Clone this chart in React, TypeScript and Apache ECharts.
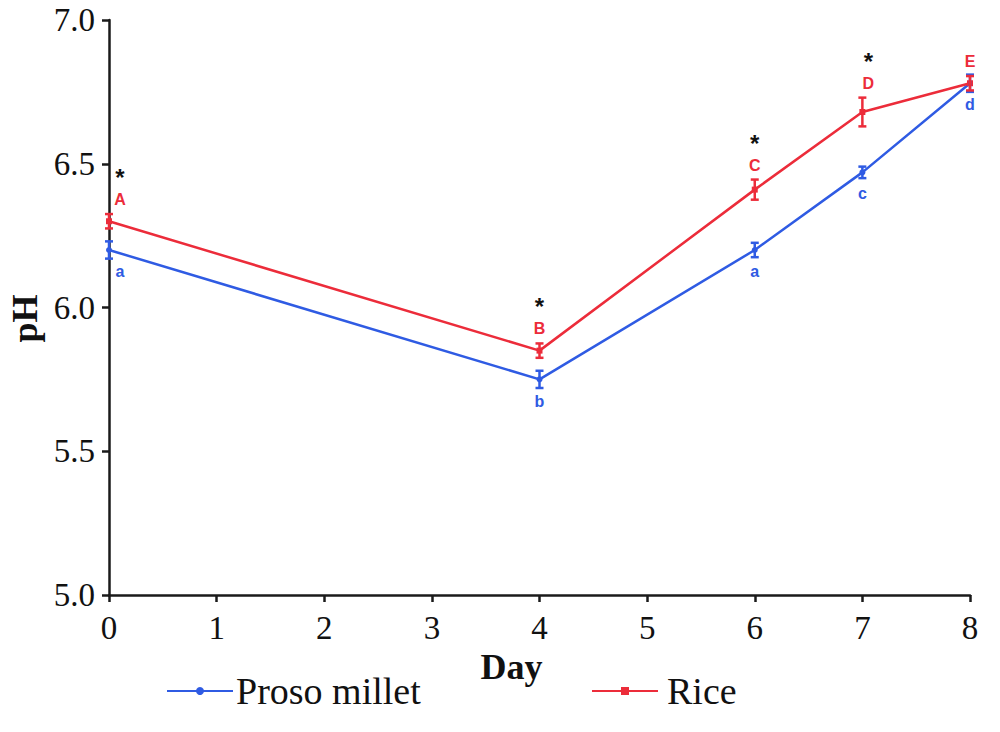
import React, { useEffect, useRef } from "react";
import * as echarts from "echarts";

const days = [0, 4, 6, 7, 8];
const prosoValues = [6.2, 5.75, 6.2, 6.47, 6.78];
const prosoErrors = [0.03, 0.03, 0.025, 0.02, 0.03];
const riceValues = [6.3, 5.85, 6.41, 6.68, 6.78];
const riceErrors = [0.025, 0.025, 0.035, 0.05, 0.025];
const prosoLetters = ["a", "b", "a", "c", "d"];
const riceLetters = ["A", "B", "C", "D", "E"];
const significant = [true, true, true, true, false];

const BLUE = "#2f5be3";
const RED = "#ec2c3a";
const SERIF = "'Liberation Serif', 'Times New Roman', serif";
const SANS = "'Liberation Sans', Arial, sans-serif";

function errorSeries(name: string, values: number[], errors: number[], letters: string[], color: string, above: boolean) {
  return {
    type: "custom",
    name: name + "-err",
    silent: true,
    z: 5,
    data: days.map((d, i) => [d, values[i], errors[i], i]),
    renderItem: (params: any, api: any) => {
      const x = api.value(0);
      const y = api.value(1);
      const e = api.value(2);
      const i = api.value(3);
      const top = api.coord([x, y + e]);
      const bot = api.coord([x, y - e]);
      const c = api.coord([x, y]);
      const cw = 4;
      const dx = x === 0 ? 11 : x === 7 && above ? 6 : 0;
      const children: any[] = [
        { type: "line", shape: { x1: top[0], y1: top[1], x2: bot[0], y2: bot[1] }, style: { stroke: color, lineWidth: 2.5 } },
        { type: "line", shape: { x1: top[0] - cw, y1: top[1], x2: top[0] + cw, y2: top[1] }, style: { stroke: color, lineWidth: 2.5 } },
        { type: "line", shape: { x1: bot[0] - cw, y1: bot[1], x2: bot[0] + cw, y2: bot[1] }, style: { stroke: color, lineWidth: 2.5 } },
      ];
      const ly = above ? Math.min(top[1], c[1] - 8) - 14 : Math.max(bot[1], c[1] + 8) + 13;
      children.push({
        type: "text",
        style: {
          text: letters[i],
          x: c[0] + dx,
          y: ly,
          fill: color,
          font: "bold 16px " + SANS,
          align: "center",
          verticalAlign: "middle",
        },
      });
      if (above && significant[i]) {
        children.push({
          type: "text",
          style: {
            text: "*",
            x: c[0] + dx,
            y: ly - 10,
            fill: "#111",
            font: "bold 24px " + SANS,
            align: "center",
            verticalAlign: "bottom",
          },
        });
      }
      return { type: "group", children };
    },
  };
}

const legendText = { fontFamily: SERIF, fontSize: 38, color: "#111", lineHeight: 38, padding: [0, 0, 0, -2] };

export default function App() {
  const ref = useRef<HTMLDivElement>(null);
  useEffect(() => {
    if (!ref.current) return;
    const chart = echarts.init(ref.current, undefined, { renderer: "svg" });
    chart.setOption({
      animation: false,
      backgroundColor: "#ffffff",
      grid: { left: 109, right: 30, top: 20, bottom: 137, outerBoundsMode: "none", containLabel: false },
      legend: [
        {
          left: 166,
          top: 672,
          padding: 0,
          itemWidth: 66,
          itemHeight: 10,
          textStyle: legendText,
          data: ["Proso millet"],
        },
        {
          left: 591,
          top: 672,
          padding: 0,
          itemWidth: 66,
          itemHeight: 10,
          itemGap: 0,
          textStyle: { ...legendText, padding: [0, 0, 0, 4] },
          data: ["Rice"],
        },
      ],
      xAxis: {
        type: "value",
        min: 0,
        max: 8,
        interval: 1,
        name: "Day",
        nameLocation: "middle",
        nameGap: 48,
        nameTextStyle: { fontFamily: SERIF, fontSize: 36, fontWeight: "bold", color: "#111", padding: [0, 56, 0, 0] },
        axisLine: { show: true, onZero: false, lineStyle: { color: "#1a1a1a", width: 2.5 } },
        axisTick: { show: true, length: 7, lineStyle: { color: "#1a1a1a", width: 2.5 } },
        axisLabel: { fontFamily: SERIF, fontSize: 33, color: "#111", margin: 16 },
        splitLine: { show: false },
      },
      yAxis: {
        type: "value",
        min: 5,
        max: 7,
        interval: 0.5,
        name: "pH",
        nameLocation: "middle",
        nameGap: 64,
        nameRotate: 90,
        nameTextStyle: { fontFamily: SERIF, fontSize: 36, fontWeight: "bold", color: "#111", padding: [0, 22, 0, 0] },
        axisLine: { show: true, onZero: false, lineStyle: { color: "#1a1a1a", width: 2.5 } },
        axisTick: { show: true, length: 7, lineStyle: { color: "#1a1a1a", width: 2.5 } },
        axisLabel: { fontFamily: SERIF, fontSize: 33, color: "#111", margin: 14, formatter: (v: number) => v.toFixed(1) },
        splitLine: { show: false },
      },
      series: [
        {
          type: "line",
          name: "Proso millet",
          data: days.map((d, i) => [d, prosoValues[i]]),
          color: BLUE,
          symbol: "circle",
          symbolSize: 6,
          lineStyle: { width: 2.5, color: BLUE },
          itemStyle: { color: BLUE },
          z: 4,
        },
        {
          type: "line",
          name: "Rice",
          data: days.map((d, i) => [d, riceValues[i]]),
          color: RED,
          symbol: "rect",
          symbolSize: 6,
          lineStyle: { width: 2.5, color: RED },
          itemStyle: { color: RED },
          z: 4,
        },
        errorSeries("Proso millet", prosoValues, prosoErrors, prosoLetters, BLUE, false),
        errorSeries("Rice", riceValues, riceErrors, riceLetters, RED, true),
      ],
    });
    return () => chart.dispose();
  }, []);
  return <div ref={ref} style={{ position: "absolute", left: 0, top: 0, width: 1000, height: 732 }} />;
}
